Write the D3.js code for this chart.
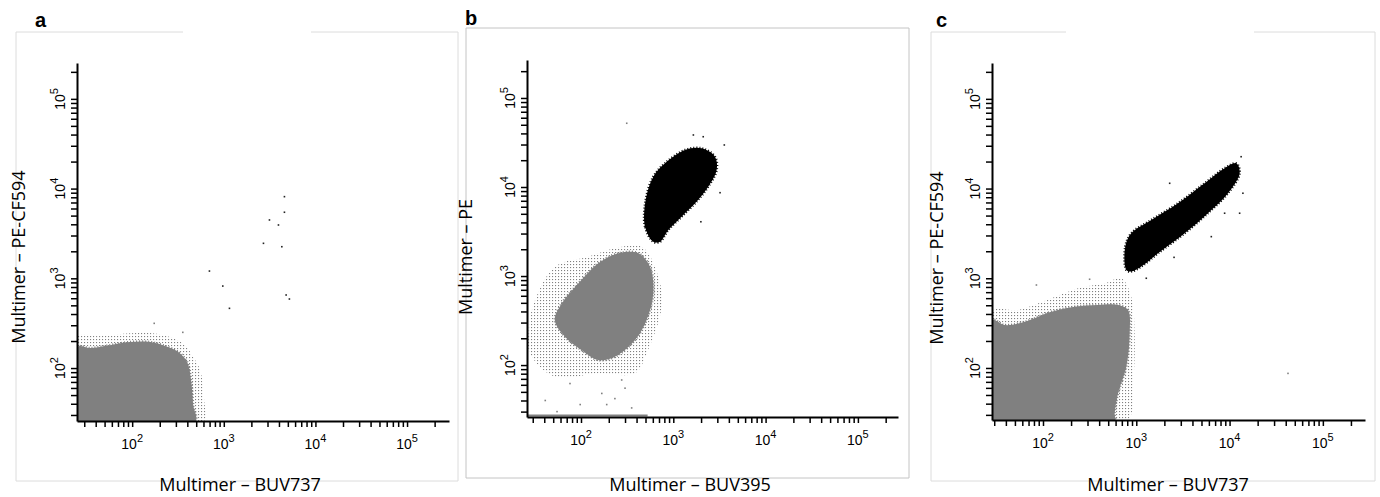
<!DOCTYPE html>
<html>
<head>
<meta charset="utf-8">
<script src="https://cdn.jsdelivr.net/npm/d3@7"></script>
<style>
  body { margin: 0; background: #fff; }
  svg { display: block; }
</style>
</head>
<body>
<div id="chart"></div>
<script>
// ---- Data (fluorescence units) ----
const decadeLabels = [100, 1000, 10000, 100000];
const decadeExps = ["2", "3", "4", "5"];

const panelLetters = ["a", "b", "c"];
const xTitles = ["Multimer \u2013 BUV737", "Multimer \u2013 BUV395", "Multimer \u2013 BUV737"];
const yTitles = ["Multimer \u2013 PE-CF594", "Multimer \u2013 PE", "Multimer \u2013 PE-CF594"];

// axis extents per panel
const xExtents = [[25, 287000], [26, 272000], [28.4, 283000]];
const yExtents = [[25.7, 251000], [26.1, 267000], [26.3, 251000]];

// panel a : negative population only
const aCore = [[25, 25], [25, 171], [35, 167], [57, 180], [95, 195], [157, 195], [229, 176],
  [318, 151], [398, 117], [440, 73], [463, 39], [486, 25]];
const aHalo = [[25, 25], [25, 222], [45, 227], [95, 245], [165, 245], [260, 222], [378, 180],
  [463, 133], [552, 95], [610, 44], [596, 25]];
const aGrayDots = [[174, 315], [357, 250]];
const aBlackDots = [[697, 1205], [975, 820], [1153, 463], [2710, 2455], [3150, 4470], [3950, 3930],
  [4300, 2250], [4590, 8130], [4590, 5450], [4790, 652], [5200, 588]];

// panel b
const bCore = [[52, 321], [67, 208], [102, 147], [154, 114], [233, 124], [385, 191], [514, 321],
  [607, 640], [560, 1270], [418, 1800], [254, 1800], [154, 1390], [94, 828], [62, 493]];
const bHalo = [[27, 227], [28, 135], [52, 74], [154, 81], [385, 81], [514, 135], [748, 452],
  [689, 982], [455, 2130], [233, 2050], [120, 1650], [52, 1270], [30, 452]];
const bPositive = [[607, 2430], [494, 3580], [502, 7150], [607, 13060], [813, 18450], [1340, 26060],
  [2030, 27200], [2830, 21900], [2950, 15500], [2390, 10070], [1720, 6560], [1230, 4640],
  [883, 3290], [718, 2430]];
const bGrayDots = [[313, 52000], [168, 48], [233, 42], [300, 55], [354, 33], [98, 36], [41, 40],
  [55, 30], [190, 36], [76, 62], [276, 68]];
const bBlackDots = [[1650, 38400], [2110, 36700], [3570, 29650], [3210, 8630], [1990, 4070]];
const bAxisPile = [26, 527];

// panel c
const cCore = [[28, 25], [28, 343], [39, 301], [64, 328], [123, 424], [219, 482], [389, 504],
  [637, 504], [815, 443], [849, 244], [782, 103], [637, 52], [587, 31], [587, 25]];
const cHalo = [[28, 25], [28, 424], [54, 443], [123, 598], [237, 773], [458, 879], [690, 1000],
  [883, 624], [959, 244], [923, 67], [782, 25]];
const cPositive = [[782, 1240], [762, 2250], [883, 3170], [1450, 4470], [2800, 6850], [5400, 11450],
  [8850, 16830], [11800, 19130], [12820, 14820], [9620, 8870], [5860, 5310], [3300, 3170],
  [1710, 1900], [1130, 1350], [883, 1190]];
const cGrayDots = [[42300, 87], [316, 975], [85, 841]];
const cBlackDots = [[13300, 22650], [13900, 8870], [6370, 2910], [2540, 1710], [2280, 11450],
  [1280, 1000], [8850, 5310], [12820, 5310]];

const panels = [
  {core: aCore, halo: aHalo, positive: null, grayDots: aGrayDots, blackDots: aBlackDots, pile: null},
  {core: bCore, halo: bHalo, positive: bPositive, grayDots: bGrayDots, blackDots: bBlackDots, pile: bAxisPile},
  {core: cCore, halo: cHalo, positive: cPositive, grayDots: cGrayDots, blackDots: cBlackDots, pile: null}
];

// ---- Layout ----
const layouts = [
  {x0: 77, x1: 449, y0: 421, y1: 63, frame: [16, 32, 458, 481], gap: [183, 311], letter: [35, 27], xTitle: [240, 491], yTitle: [25, 257]},
  {x0: 527, x1: 898, y0: 417, y1: 60, frame: [466, 28, 909, 478], gap: null, letter: [465, 25], xTitle: [690, 491], yTitle: [472, 257], frameColor: "#c4c4c4"},
  {x0: 992, x1: 1365, y0: 420, y1: 63, frame: [931, 32, 1375, 481], gap: [1066, 1254], letter: [936, 27], xTitle: [1168, 491], yTitle: [943, 258]}
];

const gray = "#808080";

const svg = d3.select("#chart").append("svg")
  .attr("width", 1380)
  .attr("height", 497);

const defs = svg.append("defs");
defs.append("pattern")
  .attr("id", "speckle")
  .attr("width", 3).attr("height", 3)
  .attr("patternUnits", "userSpaceOnUse")
  .append("rect")
  .attr("width", 1.1).attr("height", 1.1)
  .attr("fill", gray);

function logTicks(ext) {
  const t = [];
  for (let k = 1; k <= 5; k++) {
    for (let m = 1; m <= 9; m++) {
      const v = m * Math.pow(10, k);
      if (v >= ext[0] && v <= ext[1]) t.push(v);
    }
  }
  return t;
}

panels.forEach((p, i) => drawPanel(i, p, layouts[i]));

function drawPanel(i, p, L) {
  const x = d3.scaleLog().domain(xExtents[i]).range([L.x0, L.x1]);
  const y = d3.scaleLog().domain(yExtents[i]).range([L.y0, L.y1]);
  const g = svg.append("g");

  // frame
  const [fl, ft, fr, fb] = L.frame;
  const framePath = L.gap
    ? `M${L.gap[1]},${ft}H${fr}V${fb}H${fl}V${ft}H${L.gap[0]}`
    : `M${fl},${ft}H${fr}V${fb}H${fl}Z`;
  g.append("path")
    .attr("d", framePath)
    .attr("fill", "none")
    .attr("stroke", L.frameColor || "#dcdcdc")
    .attr("stroke-width", 1);

  // clip to plot area
  const clipId = "clip" + i;
  defs.append("clipPath").attr("id", clipId)
    .append("rect")
    .attr("x", L.x0).attr("y", L.y1)
    .attr("width", L.x1 - L.x0).attr("height", L.y0 - L.y1);

  const plot = g.append("g").attr("clip-path", `url(#${clipId})`);

  const blob = d3.line()
    .x(d => x(d[0]))
    .y(d => y(d[1]))
    .curve(d3.curveCatmullRomClosed.alpha(0.5));

  plot.append("path")
    .attr("d", blob(p.halo))
    .attr("fill", "url(#speckle)");

  plot.append("path")
    .attr("d", blob(p.core))
    .attr("fill", gray)
    .attr("stroke", gray)
    .attr("stroke-width", 2.5)
    .attr("stroke-dasharray", "1,2");

  if (p.pile) {
    plot.append("line")
      .attr("x1", x(p.pile[0])).attr("x2", x(p.pile[1]))
      .attr("y1", L.y0 - 1.5).attr("y2", L.y0 - 1.5)
      .attr("stroke", gray)
      .attr("stroke-width", 2);
  }

  if (p.positive) {
    plot.append("path")
      .attr("d", blob(p.positive))
      .attr("fill", "#000")
      .attr("stroke", "#000")
      .attr("stroke-width", 2.5)
      .attr("stroke-dasharray", "1,2");
  }

  plot.selectAll(".gdot")
    .data(p.grayDots)
    .enter().append("rect")
    .attr("x", d => x(d[0]) - 0.8).attr("y", d => y(d[1]) - 0.8)
    .attr("width", 1.6).attr("height", 1.6)
    .attr("fill", gray);

  plot.selectAll(".bdot")
    .data(p.blackDots)
    .enter().append("rect")
    .attr("x", d => x(d[0]) - 0.8).attr("y", d => y(d[1]) - 0.8)
    .attr("width", 1.6).attr("height", 1.6)
    .attr("fill", "#222");

  // axes
  const xAxis = g.append("g")
    .attr("transform", `translate(0,${L.y0})`)
    .call(d3.axisBottom(x).tickValues(logTicks(xExtents[i])).tickSize(6).tickSizeOuter(0).tickFormat(""));
  const yAxis = g.append("g")
    .attr("transform", `translate(${L.x0},0)`)
    .call(d3.axisLeft(y).tickValues(logTicks(yExtents[i])).tickSize(6).tickSizeOuter(0).tickFormat(""));
  [xAxis, yAxis].forEach(a => {
    a.select(".domain").attr("stroke", "#000").attr("stroke-width", 2);
    a.selectAll(".tick line").attr("stroke", "#000").attr("stroke-width", 1.5);
  });

  // decade labels
  decadeLabels.forEach((v, j) => {
    const t = g.append("text")
      .attr("x", x(v)).attr("y", L.y0 + 28)
      .attr("text-anchor", "middle")
      .style("font-family", "'Liberation Sans', Arial, sans-serif")
      .style("font-size", "14px")
      .attr("fill", "#000");
    t.append("tspan").text("10");
    t.append("tspan").attr("dy", -7).style("font-size", "11px").text(decadeExps[j]);

    const ty = g.append("text")
      .attr("transform", `translate(${L.x0 - 12},${y(v)}) rotate(-90)`)
      .attr("text-anchor", "middle")
      .style("font-family", "'Liberation Sans', Arial, sans-serif")
      .style("font-size", "14px")
      .attr("fill", "#000");
    ty.append("tspan").text("10");
    ty.append("tspan").attr("dy", -7).style("font-size", "11px").text(decadeExps[j]);
  });

  // titles
  g.append("text")
    .attr("x", L.xTitle[0]).attr("y", L.xTitle[1])
    .attr("text-anchor", "middle")
    .style("font-family", "'Open Sans', sans-serif")
    .style("font-size", "18px")
    .text(xTitles[i]);

  g.append("text")
    .attr("transform", `translate(${L.yTitle[0]},${L.yTitle[1]}) rotate(-90)`)
    .attr("text-anchor", "middle")
    .style("font-family", "'Open Sans', sans-serif")
    .style("font-size", "18px")
    .text(yTitles[i]);

  g.append("text")
    .attr("x", L.letter[0]).attr("y", L.letter[1])
    .style("font-family", "'Liberation Sans', Arial, sans-serif")
    .style("font-weight", "bold")
    .style("font-size", "20px")
    .text(panelLetters[i]);
}
</script>
</body>
</html>
